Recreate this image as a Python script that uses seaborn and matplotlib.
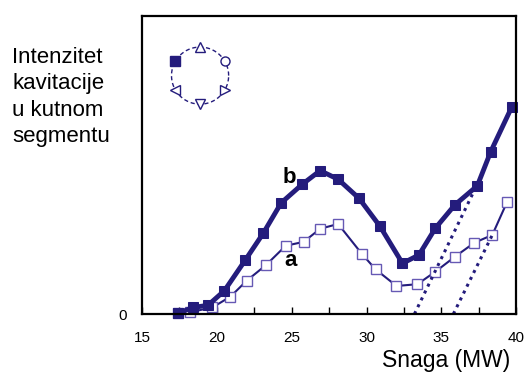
import numpy as np
import pandas as pd
import matplotlib
matplotlib.use("Agg")
import matplotlib.pyplot as plt
import seaborn as sns

# Krivulja b (puni kvadrati)
snaga_b = [17.4, 18.4, 19.4, 20.5, 21.9, 23.1, 24.3, 25.7, 26.9, 28.1, 29.5,
           30.9, 32.4, 33.5, 34.6, 35.9, 37.4, 38.3, 39.7]
intenz_b = [0.2, 2.2, 2.9, 7.8, 18.1, 27.1, 37.3, 43.5, 48.1, 45.2, 38.8,
            29.4, 17.0, 19.8, 28.8, 36.6, 43.0, 54.5, 69.4]

# Krivulja a (prazni kvadrati)
snaga_a = [17.4, 18.2, 19.7, 20.9, 22.0, 23.3, 24.6, 25.8, 26.9, 28.1, 29.7,
           30.6, 32.0, 33.4, 34.6, 35.9, 37.2, 38.4, 39.4]
intenz_a = [0.2, 0.6, 2.2, 5.8, 11.2, 16.5, 22.9, 24.2, 28.6, 30.2, 20.1,
            15.0, 9.4, 10.0, 14.2, 19.2, 23.9, 26.5, 37.7]

# Tockaste linije
linija1_x = [33.2, 37.3]
linija1_y = [0, 42.5]
linija2_x = [35.8, 38.4]
linija2_y = [0, 26.5]

plava = "#241c7c"
svijetla = "#6659b4"

sns.set_style("white")
plt.rcParams['font.family'] = ['Liberation Sans', 'DejaVu Sans']
plt.rcParams['text.color'] = 'black'
plt.rcParams['xtick.color'] = 'black'
plt.rcParams['ytick.color'] = 'black'

fig = plt.figure(figsize=(5.3, 3.79), dpi=100)
ax = fig.add_axes([0.268, 0.1715, 0.706, 0.7865])

df_b = pd.DataFrame({'x': snaga_b, 'y': intenz_b})
df_a = pd.DataFrame({'x': snaga_a, 'y': intenz_a})

sns.lineplot(data=df_a, x='x', y='y', ax=ax, color=plava, linewidth=1.5,
             marker='s', markersize=6.5, markerfacecolor='white',
             markeredgecolor=svijetla, markeredgewidth=1.0, sort=False, clip_on=False)
sns.lineplot(data=df_b, x='x', y='y', ax=ax, color=plava, linewidth=3.5,
             marker='s', markersize=7, markerfacecolor=plava,
             markeredgecolor=plava, sort=False, clip_on=False)

ax.plot(linija1_x, linija1_y, color=plava, linestyle=(0, (1, 1.5)), linewidth=2.2)
ax.plot(linija2_x, linija2_y, color=plava, linestyle=(0, (1, 1.5)), linewidth=2.2)

ax.set_xlim(15, 40)
ax.set_ylim(0, 100)
ax.set_xticks([15, 20, 25, 30, 35, 40])
ax.set_xticks(np.arange(17.5, 40, 2.5), minor=True)
ax.tick_params(axis='x', which='both', direction='in', length=5, width=1,
               labelsize=11, pad=12, bottom=True)
ax.set_yticks([0])
ax.tick_params(axis='y', length=0, labelsize=11, pad=11)
ax.set_xlabel('')
ax.set_ylabel('')
for s in ax.spines.values():
    s.set_linewidth(1.6)
    s.set_color('black')

ax.text(24.85, 45.8, 'b', fontsize=16, fontweight='bold', ha='center', va='center')
ax.text(24.9, 17.8, 'a', fontsize=16, fontweight='bold', ha='center', va='center')

redovi = ['Intenzitet', 'kavitacije', 'u kutnom', 'segmentu']
for i, red in enumerate(redovi):
    fig.text(12 / 530, 1 - (63 + 26.3 * i) / 379, red, fontsize=16,
             ha='left', va='baseline')
fig.text(510 / 530, 1 - 367.5 / 379, 'Snaga (MW)', fontsize=16.5,
         ha='right', va='baseline')

# Mala skica segmenata
ins = fig.add_axes([0.302, 0.695, 0.151, 0.211])
t = np.linspace(0, 2 * np.pi, 200)
ins.plot(np.cos(t), np.sin(t), color=plava, linestyle=(0, (3, 2)), linewidth=1)
kutevi = [150, 90, 30, -30, -90, -150]
oznake = ['s', '^', 'o', '>', 'v', '<']
for k, m in zip(kutevi, oznake):
    r = np.deg2rad(k)
    ins.plot(np.cos(r), np.sin(r), marker=m, markersize=6.5,
             markerfacecolor=plava if m == 's' else 'white',
             markeredgecolor=plava, markeredgewidth=1, linestyle='none')
ins.set_xlim(-1.4, 1.4)
ins.set_ylim(-1.4, 1.4)
ins.axis('off')

fig.savefig('out.png', dpi=100)
